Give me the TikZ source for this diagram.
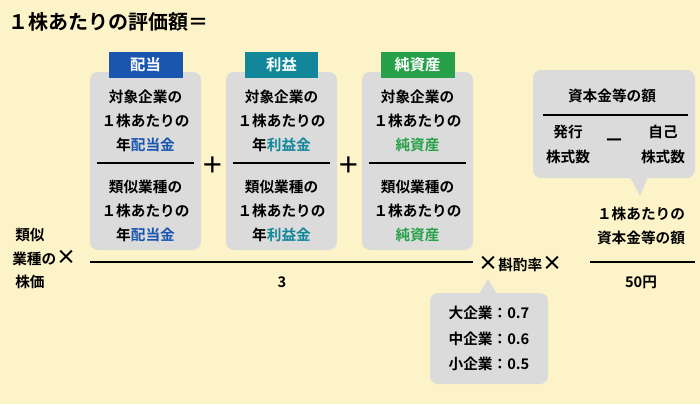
\documentclass[tikz,border=0pt]{standalone}
\usepackage{fontspec}
\setmainfont{Noto Sans CJK JP}[BoldFont={Noto Sans CJK JP Bold}]
\begin{document}
\begin{tikzpicture}[x=0.75pt,y=-0.75pt,font=\bfseries\fontsize{11}{13}\selectfont,
  gbox/.style={fill=gray!28,rounded corners=6pt,draw=none},
  tag/.style={text=white,inner sep=0pt,minimum height=19.5pt,font=\bfseries\fontsize{11.5}{13}\selectfont},
  t/.style={inner sep=0pt}]
\definecolor{bg}{HTML}{FCF4C8}
\definecolor{cblue}{HTML}{1A56B0}
\definecolor{cteal}{HTML}{13879A}
\definecolor{cgreen}{HTML}{27A149}
\fill[bg] (0,0) rectangle (700,404);
\node[t,anchor=west,font=\bfseries\fontsize{15}{17}\selectfont] (title) at (8,22) {１株あたりの評価額＝};
% boxes
\foreach \xa/\nm/\lab/\col/\w in {90/a/配当/cblue/74,226/b/利益/cteal/73,362/c/純資産/cgreen/74}{
  \fill[gbox] (\xa,72) rectangle ++(111,178);
  \node[tag,fill=\col,minimum width=\w*0.75pt] (tag\nm) at (\xa+55.5,65) {\lab};
  \node[t] (\nm1) at (\xa+55.5,97) {対象企業の};
  \node[t] (\nm2) at (\xa+55.5,121) {１株あたりの};
  \node[t] (\nm4) at (\xa+55.5,187) {類似業種の};
  \node[t] (\nm5) at (\xa+55.5,211) {１株あたりの};
  \draw[line width=1.2pt] (\xa+7,163) -- (\xa+104,163);
}
\node[t] (a3) at (145.5,145) {年\textcolor{cblue}{配当金}};
\node[t] (a6) at (145.5,235) {年\textcolor{cblue}{配当金}};
\node[t] (b3) at (281.5,145) {年\textcolor{cteal}{利益金}};
\node[t] (b6) at (281.5,235) {年\textcolor{cteal}{利益金}};
\node[t,text=cgreen] (c3) at (417.5,145) {純資産};
\node[t,text=cgreen] (c6) at (417.5,235) {純資産};
\node[t,font=\bfseries\fontsize{17}{17}\selectfont] (p1) at (213,165) {＋};
\node[t,font=\bfseries\fontsize{17}{17}\selectfont] (p2) at (349,165) {＋};
% left
\node[t] (l1) at (30,235) {類似};
\node[t,anchor=west] (l2) at (12,258) {業種の\fontsize{15}{15}\selectfont ×};
\node[t] (l3) at (30,282) {株価};
\draw[line width=1.2pt] (90,262) -- (473,262);
\node[t] (three) at (282,282) {3};
\node[t,anchor=west] (sk) at (478,264) {\fontsize{15}{15}\selectfont ×\fontsize{11}{13}\selectfont 斟酌率\fontsize{15}{15}\selectfont ×};
% right box
\fill[gbox] (533,70) rectangle (695,178);
\fill[gray!28] (630,177) -- (648,177) -- (640,196) -- cycle;
\node[t] (r0) at (612,96) {資本金等の額};
\draw[line width=1.2pt] (543,115) -- (688,115);
\node[t] (r1) at (568,132) {発行};
\node[t] (r2) at (568,157) {株式数};
\node[t,font=\bfseries\fontsize{15}{15}\selectfont] (rm) at (614,143) {－};
\node[t] (r3) at (663,132) {自己};
\node[t] (r4) at (663,157) {株式数};
\node[t] (s1) at (641,214) {１株あたりの};
\node[t] (s2) at (641,238) {資本金等の額};
\draw[line width=1.2pt] (590,262) -- (695,262);
\node[t] (s3) at (641,282) {50円};
% bottom box
\fill[gbox] (430,293) rectangle (548,384);
\fill[gray!28] (479,294) -- (497,294) -- (488,279) -- cycle;
\node[t] (k1) at (489,313) {大企業：0.7};
\node[t] (k2) at (489,339) {中企業：0.6};
\node[t] (k3) at (489,364) {小企業：0.5};
\end{tikzpicture}
\end{document}
